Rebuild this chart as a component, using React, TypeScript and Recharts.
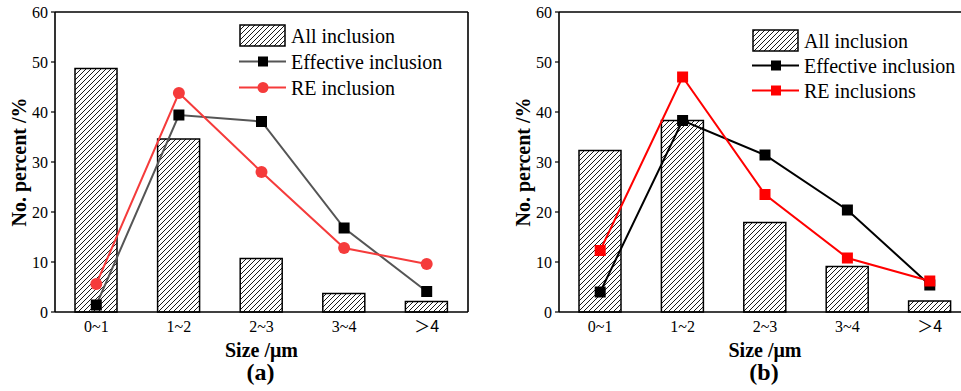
import React from 'react';
import { ComposedChart, Bar, Line, XAxis, YAxis, Label } from 'recharts';

const categories = ['0~1', '1~2', '2~3', '3~4', '＞4'];
const allA = [48.7, 34.6, 10.7, 3.7, 2.1];
const effA = [1.4, 39.4, 38.1, 16.8, 4.1];
const reA = [5.6, 43.8, 28.0, 12.8, 9.6];
const allB = [32.3, 38.3, 17.9, 9.1, 2.2];
const effB = [4.0, 38.3, 31.4, 20.4, 5.4];
const reB = [12.3, 47.0, 23.5, 10.8, 6.2];
const yTicks = [0, 10, 20, 30, 40, 50, 60];
const yMinorTicks = [5, 15, 25, 35, 45, 55];
const xMinorTicks = [0.5, 1.5, 2.5, 3.5];
const legendA = ['All inclusion', 'Effective inclusion', 'RE inclusion'];
const legendB = ['All inclusion', 'Effective inclusion', 'RE inclusions'];

const dataA = categories.map((c, i) => ({ cat: c, all: allA[i], eff: effA[i], re: reA[i] }));
const dataB = categories.map((c, i) => ({ cat: c, all: allB[i], eff: effB[i], re: reB[i] }));

const SERIF = 'Liberation Serif, DejaVu Serif, serif';
const serifStyle = { fontFamily: SERIF };

const squareDot = (fill: string, size: number) => (p: any) => (
  <rect key={`sq-${p.index}`} x={p.cx - size / 2} y={p.cy - size / 2} width={size} height={size} fill={fill} />
);
const circleDot = (fill: string, r: number) => (p: any) => (
  <circle key={`ci-${p.index}`} cx={p.cx} cy={p.cy} r={r} fill={fill} />
);

const XTick = (props: any) => {
  const { x, y, payload } = props;
  const v = String(payload.value);
  const special = v.startsWith('＞');
  return (
    <text x={x} y={y + 20} textAnchor="middle" fontSize={16}
      style={{ fontFamily: special ? 'Noto Sans CJK SC, Liberation Sans, sans-serif' : SERIF }}
      fill="#000">{v}</text>
  );
};

const YTick = (props: any) => {
  const { x, y, payload } = props;
  return (
    <text x={x} y={y + 5.5} textAnchor="end" fontSize={16} style={serifStyle} fill="#000">{payload.value}</text>
  );
};

function Panel({ data, marginLeft, width, effColor, reColor, reShape, tag }: any) {
  return (
    <ComposedChart width={width} height={391} data={data}
      margin={{ top: 12, right: width === 480 ? 12 : 9, bottom: 0, left: marginLeft }}>
      <XAxis dataKey="cat" height={79} tickSize={0} tickMargin={0} tick={<XTick />}
        axisLine={{ stroke: '#000', strokeWidth: 1.6 }} interval={0}>
        <Label content={(p: any) => {
          const vb = p.viewBox;
          const cx = vb.x + vb.width / 2;
          return (
            <g>
              <text x={cx} y={vb.y + 45} textAnchor="middle" fontSize={20} fontWeight="bold" style={serifStyle}>Size /μm</text>
              <text x={cx - 1} y={vb.y + 68} textAnchor="middle" fontSize={24} fontWeight="bold" style={serifStyle}>{tag}</text>
            </g>
          );
        }} />
      </XAxis>
      <XAxis xAxisId="minor" type="number" domain={[-0.5, 4.5]} ticks={xMinorTicks} allowDataOverflow
        mirror tick={false} tickSize={4} axisLine={false} tickLine={{ stroke: '#000', strokeWidth: 1.2 }} />
      <XAxis xAxisId="top" dataKey="cat" orientation="top" mirror tick={false} tickLine={false}
        axisLine={{ stroke: '#000', strokeWidth: 1.6 }} />
      <YAxis width={55} domain={[0, 60]} ticks={yTicks} tickSize={4} tickMargin={3}
        axisLine={{ stroke: '#000', strokeWidth: 1.6 }} tickLine={{ stroke: '#000', strokeWidth: 1.2 }}
        tick={<YTick />} interval={0}>
        <Label content={(p: any) => {
          const vb = p.viewBox;
          const cx = vb.x + vb.width - 36;
          const cy = vb.y + vb.height / 2;
          return (
            <text x={cx} y={cy} transform={`rotate(-90 ${cx} ${cy})`} textAnchor="middle" dominantBaseline="central"
              fontSize={20} fontWeight="bold" style={serifStyle}>No. percent /%</text>
          );
        }} />
      </YAxis>
      <YAxis yAxisId="minor" domain={[0, 60]} ticks={yMinorTicks} allowDataOverflow mirror tick={false}
        tickSize={4} axisLine={false} tickLine={{ stroke: '#000', strokeWidth: 1.2 }} />
      <YAxis yAxisId="right" orientation="right" domain={[0, 60]} mirror tick={false} tickLine={false}
        axisLine={{ stroke: '#000', strokeWidth: 1.6 }} />
      <Bar dataKey="all" barSize={42} fill="url(#hatch)" stroke="#000" strokeWidth={1.5} isAnimationActive={false} />
      <Line dataKey="eff" stroke={effColor} strokeWidth={2} dot={squareDot('#000', 11)} isAnimationActive={false} />
      <Line dataKey="re" stroke={reColor} strokeWidth={2}
        dot={reShape === 'circle' ? circleDot(reColor, 6) : squareDot(reColor, 11)} isAnimationActive={false} />
    </ComposedChart>
  );
}

function LegendBox({ left, top, labels, effColor, reColor, reShape, rowGap }: any) {
  const w = 46;
  const rows = [top + 10.5, top + 10.5 + rowGap, top + 10.5 + rowGap * 2];
  return (
    <svg style={{ position: 'absolute', left: 0, top: 0 }} width={961} height={391}>
      <rect x={left} y={top} width={w - 1} height={21} fill="url(#hatch)" stroke="#000" strokeWidth={1.5} />
      <line x1={left - 1} x2={left + w} y1={rows[1]} y2={rows[1]} stroke={effColor} strokeWidth={2} />
      <rect x={left + w / 2 - 5} y={rows[1] - 5} width={10} height={10} fill="#000" />
      <line x1={left - 1} x2={left + w} y1={rows[2]} y2={rows[2]} stroke={reColor} strokeWidth={2} />
      {reShape === 'circle'
        ? <circle cx={left + w / 2} cy={rows[2]} r={5.5} fill={reColor} />
        : <rect x={left + w / 2 - 5} y={rows[2] - 5} width={10} height={10} fill={reColor} />}
      {labels.map((t: string, i: number) => (
        <text key={t} x={left + 51} y={rows[i] + 7} fontSize={20} style={serifStyle} fill="#000">{t}</text>
      ))}
    </svg>
  );
}

export default function App() {
  return (
    <div style={{ position: 'absolute', left: 0, top: 0, width: 961, height: 391, overflow: 'hidden', background: '#fff', fontFamily: SERIF }}>
      <svg width={0} height={0} style={{ position: 'absolute' }}>
        <defs>
          <pattern id="hatch" patternUnits="userSpaceOnUse" width={5} height={5}>
            <rect width={5} height={5} fill="#fff" />
            <path d="M-1,1 l2,-2 M0,5 l5,-5 M4,6 l2,-2" stroke="#000" strokeWidth={0.9} />
          </pattern>
        </defs>
      </svg>
      <div style={{ position: 'absolute', left: 0, top: 0 }}>
        <Panel data={dataA} marginLeft={0} width={480} effColor="#555555" reColor="#f53b3b" reShape="circle" tag="(a)" />
      </div>
      <div style={{ position: 'absolute', left: 480, top: 0 }}>
        <Panel data={dataB} marginLeft={24} width={500} effColor="#000000" reColor="#ff0000" reShape="square" tag="(b)" />
      </div>
      <LegendBox left={240} top={25} labels={legendA} effColor="#555555" reColor="#f53b3b" reShape="circle" rowGap={26} />
      <LegendBox left={753} top={30} labels={legendB} effColor="#000000" reColor="#ff0000" reShape="square" rowGap={25} />
    </div>
  );
}
